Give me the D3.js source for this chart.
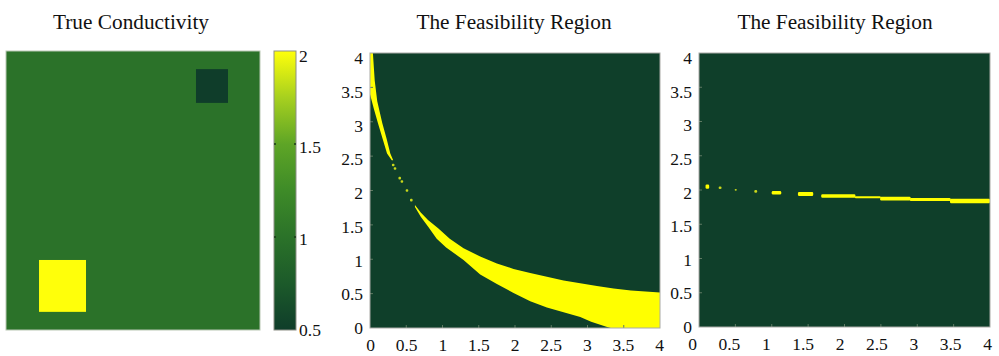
<!DOCTYPE html>
<html>
<head>
<meta charset="utf-8">
<script src="https://cdn.jsdelivr.net/npm/d3@7"></script>
<style>
  html, body { margin: 0; padding: 0; background: #fff; }
  svg { display: block; }
</style>
</head>
<body>
<svg id="chart" width="999" height="356"></svg>
<script>
// ---- Colour map for conductivity (value -> colour) ----
const cmapValues = [0.5, 0.75, 1.0, 1.25, 1.5, 1.75, 2.0];
const cmapColors = ["#0f3d2a", "#1c5a2a", "#2b7229", "#3e8b28", "#5ea526", "#a7d01f", "#ffff0a"];
const colorbarTicks = [0.5, 1, 1.5, 2];
const colorbarTickLabels = ["0.5", "1", "1.5", "2"];

// ---- True conductivity: background plus two square inclusions (unit-square coordinates) ----
const backgroundSigma = 1.0;
const inclusionSigma = [2.0, 0.5];
const inclusionX0 = [0.130, 0.748];
const inclusionX1 = [0.315, 0.874];
const inclusionY0 = [0.065, 0.814];
const inclusionY1 = [0.251, 0.935];

// ---- Feasibility axes ----
const axisTicks = [0, 0.5, 1, 1.5, 2, 2.5, 3, 3.5, 4];
const axisTickLabels = ["0", "0.5", "1", "1.5", "2", "2.5", "3", "3.5", "4"];
const titles = ["True Conductivity", "The Feasibility Region", "The Feasibility Region"];
const feasibleColor = "#ffff00";
const infeasibleColor = "#0f3f2a";

// ---- Feasibility region, first pair: thin strip near the top-left ----
const stripRightX = [0.04, 0.065, 0.10, 0.17, 0.23, 0.28, 0.32];
const stripRightY = [4.00, 3.60, 3.30, 2.98, 2.75, 2.54, 2.44];
const stripLeftX  = [0.00, 0.00, 0.05, 0.11, 0.175, 0.235, 0.30];
const stripLeftY  = [4.00, 3.40, 3.20, 2.98, 2.75, 2.54, 2.44];

// isolated feasible points along the curve
const dotX = [0.32, 0.345, 0.41, 0.44, 0.51, 0.57];
const dotY = [2.37, 2.32, 2.18, 2.13, 2.00, 1.86];

// main band: upper and lower edges
const bandUpperX = [0.62, 0.70, 0.80, 0.94, 1.10, 1.29, 1.52, 1.75, 1.98, 2.21, 2.44, 2.67, 2.90, 3.13, 3.36, 3.60, 4.00];
const bandUpperY = [1.79, 1.68, 1.57, 1.45, 1.30, 1.16, 1.04, 0.94, 0.86, 0.80, 0.745, 0.69, 0.65, 0.61, 0.575, 0.545, 0.515];
const bandLowerX = [0.62, 0.70, 0.805, 0.92, 1.05, 1.29, 1.52, 1.75, 1.98, 2.21, 2.44, 2.67, 2.90, 3.05, 3.26, 3.32, 4.00];
const bandLowerY = [1.76, 1.62, 1.47, 1.30, 1.17, 0.99, 0.78, 0.64, 0.51, 0.39, 0.30, 0.23, 0.16, 0.09, 0.02, 0.00, 0.00];

// ---- Feasibility region, second pair: short pieces near sigma2 ~ 1.9 ----
const pieceX0  = [0.09, 0.27, 0.49, 0.76, 1.00, 1.36, 1.68, 2.14, 2.49, 2.90, 3.45];
const pieceX1  = [0.14, 0.31, 0.52, 0.80, 1.13, 1.57, 2.15, 2.50, 2.91, 3.46, 4.00];
const pieceYLo = [2.02, 2.015, 1.99, 1.96, 1.935, 1.912, 1.888, 1.88, 1.848, 1.838, 1.808];
const pieceYHi = [2.08, 2.05, 2.015, 2.00, 1.985, 1.972, 1.938, 1.91, 1.90, 1.882, 1.872];

// ---------------------------------------------------------------
const serif = '"Liberation Serif"';
const svg = d3.select("#chart");
const cmap = d3.scaleLinear().domain(cmapValues).range(cmapColors).clamp(true);
const frameColor = "#a9aaa6";
const tickFont = 17.5;

// titles
const titleX = [131, 514, 835];
svg.selectAll("text.title").data(titles).join("text")
  .attr("class", "title")
  .attr("x", (d, i) => titleX[i]).attr("y", 29)
  .attr("text-anchor", "middle")
  .style("font-family", serif).style("font-size", "21.3px").style("fill", "#111")
  .text(d => d);

// ===== Panel 1: true conductivity =====
const p1 = { x: 6, y: 51, w: 254, h: 279 };
const u = d3.scaleLinear().domain([0, 1]).range([p1.x, p1.x + p1.w]);
const v = d3.scaleLinear().domain([0, 1]).range([p1.y + p1.h, p1.y]);
const g1 = svg.append("g");
g1.append("rect").attr("x", u(0)).attr("y", v(1)).attr("width", u(1) - u(0)).attr("height", v(0) - v(1))
  .attr("fill", cmap(backgroundSigma));
g1.selectAll("rect.inc").data(inclusionSigma).join("rect")
  .attr("class", "inc")
  .attr("x", (d, i) => u(inclusionX0[i]))
  .attr("y", (d, i) => v(inclusionY1[i]))
  .attr("width", (d, i) => u(inclusionX1[i]) - u(inclusionX0[i]))
  .attr("height", (d, i) => v(inclusionY0[i]) - v(inclusionY1[i]))
  .attr("fill", d => cmap(d));
g1.append("rect").attr("x", p1.x).attr("y", p1.y).attr("width", p1.w).attr("height", p1.h)
  .attr("fill", "none").attr("stroke", "#b9c7b4").attr("stroke-width", 1);

// colour bar
const cb = { x: 274, y: 51, w: 22, h: 279 };
const cbScale = d3.scaleLinear().domain([0.5, 2]).range([cb.y + cb.h, cb.y]);
const defs = svg.append("defs");
const grad = defs.append("linearGradient").attr("id", "cbgrad")
  .attr("x1", 0).attr("y1", 1).attr("x2", 0).attr("y2", 0);
grad.selectAll("stop").data(cmapValues).join("stop")
  .attr("offset", d => (d - 0.5) / 1.5)
  .attr("stop-color", (d, i) => cmapColors[i]);
svg.append("rect").attr("x", cb.x).attr("y", cb.y).attr("width", cb.w).attr("height", cb.h)
  .attr("fill", "url(#cbgrad)").attr("stroke", "#8d8f86").attr("stroke-width", 1);
const cbLabelScale = d3.scaleLinear().domain([0.5, 2]).range([cb.y + cb.h, cb.y + 5]);
svg.selectAll("line.cbtick").data(colorbarTicks.slice(1, 3)).join("line")
  .attr("class", "cbtick")
  .attr("x1", cb.x).attr("x2", cb.x + 2).attr("y1", d => cbScale(d)).attr("y2", d => cbScale(d))
  .attr("stroke", "#1a3a1a").attr("stroke-width", 1.5);
svg.selectAll("line.cbtick2").data(colorbarTicks.slice(1, 3)).join("line")
  .attr("class", "cbtick2")
  .attr("x1", cb.x + cb.w - 2).attr("x2", cb.x + cb.w).attr("y1", d => cbScale(d)).attr("y2", d => cbScale(d))
  .attr("stroke", "#1a3a1a").attr("stroke-width", 1.5);
svg.selectAll("text.cblab").data(colorbarTicks).join("text")
  .attr("class", "cblab")
  .attr("x", cb.x + cb.w + 3).attr("y", d => cbLabelScale(d)).attr("dy", "0.34em")
  .style("font-family", serif).style("font-size", tickFont + "px").style("fill", "#111")
  .text((d, i) => colorbarTickLabels[i]);

// ===== Feasibility panels =====
function feasPanel(box, id, xLabelRange) {
  const x = d3.scaleLinear().domain([0, 4]).range([box.x, box.x + box.w]);
  const y = d3.scaleLinear().domain([0, 4]).range([box.y + box.h, box.y]);
  const g = svg.append("g");
  defs.append("clipPath").attr("id", id).append("rect")
    .attr("x", box.x).attr("y", box.y).attr("width", box.w).attr("height", box.h);
  g.append("rect").attr("x", box.x).attr("y", box.y).attr("width", box.w).attr("height", box.h)
    .attr("fill", infeasibleColor);
  const plot = g.append("g").attr("clip-path", `url(#${id})`);

  // y axis labels
  const yLab = d3.scaleLinear().domain([0, 4]).range([box.y + box.h, box.y + 5]);
  const yAxis = d3.axisLeft(yLab).tickValues(axisTicks)
    .tickFormat((d, i) => axisTickLabels[i]).tickSize(0).tickPadding(7);
  const ya = svg.append("g").attr("transform", `translate(${box.x},0)`).call(yAxis);
  ya.attr("font-family", null);
  ya.select(".domain").remove();
  ya.selectAll("text").style("font-family", serif).style("font-size", tickFont + "px").style("fill", "#111");

  // x axis labels
  const xLab = d3.scaleLinear().domain([0, 4]).range(xLabelRange);
  const xAxis = d3.axisBottom(xLab).tickValues(axisTicks)
    .tickFormat((d, i) => axisTickLabels[i]).tickSize(0).tickPadding(11);
  const xa = svg.append("g").attr("transform", `translate(0,${box.y + box.h})`).call(xAxis);
  xa.attr("font-family", null);
  xa.select(".domain").remove();
  xa.selectAll("text").style("font-family", serif).style("font-size", tickFont + "px").style("fill", "#111");

  return { x, y, g, plot };
}

function innerTicksAndFrame(p, box) {
  const ticks = axisTicks.slice(1, -1);
  p.g.selectAll("line.tx").data(ticks).join("line").attr("class", "tx")
    .attr("x1", d => p.x(d)).attr("x2", d => p.x(d))
    .attr("y1", box.y + box.h).attr("y2", box.y + box.h - 3)
    .attr("stroke", "#5f7a63").attr("stroke-width", 1);
  p.g.selectAll("line.ty").data(ticks).join("line").attr("class", "ty")
    .attr("x1", box.x).attr("x2", box.x + 3)
    .attr("y1", d => p.y(d)).attr("y2", d => p.y(d))
    .attr("stroke", "#5f7a63").attr("stroke-width", 1);
  p.g.append("rect").attr("x", box.x).attr("y", box.y).attr("width", box.w).attr("height", box.h)
    .attr("fill", "none").attr("stroke", frameColor).attr("stroke-width", 1);
}

// ---- Panel 2 ----
const box2 = { x: 370, y: 53, w: 290, h: 275 };
const p2 = feasPanel(box2, "clip2", [370, 659]);
const poly = d3.line().x(d => p2.x(d[0])).y(d => p2.y(d[1])).curve(d3.curveLinearClosed);

const stripPts = stripRightX.map((d, i) => [d, stripRightY[i]])
  .concat(stripLeftX.map((d, i) => [d, stripLeftY[i]]).reverse());
p2.plot.append("path").attr("d", poly(stripPts)).attr("fill", feasibleColor);

const bandPts = bandUpperX.map((d, i) => [d, bandUpperY[i]])
  .concat([[4, 0]])
  .concat(bandLowerX.map((d, i) => [d, bandLowerY[i]]).reverse());
p2.plot.append("path").attr("d", poly(bandPts)).attr("fill", feasibleColor);

p2.plot.selectAll("rect.dot").data(dotX).join("rect").attr("class", "dot")
  .attr("x", (d, i) => p2.x(d) - 1.3).attr("y", (d, i) => p2.y(dotY[i]) - 1.3)
  .attr("width", 2.6).attr("height", 2.6).attr("rx", 1)
  .attr("fill", "#c8d81a");
innerTicksAndFrame(p2, box2);

// ---- Panel 3 ----
const box3 = { x: 699, y: 53, w: 291, h: 274 };
const p3 = feasPanel(box3, "clip3", [692, 987]);
p3.plot.selectAll("rect.piece").data(pieceX0).join("rect").attr("class", "piece")
  .attr("x", (d, i) => p3.x(d))
  .attr("y", (d, i) => p3.y(pieceYHi[i]))
  .attr("width", (d, i) => p3.x(pieceX1[i]) - p3.x(d))
  .attr("height", (d, i) => p3.y(pieceYLo[i]) - p3.y(pieceYHi[i]))
  .attr("rx", 1.2)
  .attr("fill", (d, i) => (i >= 1 && i <= 3) ? "#c9d61c" : feasibleColor);
innerTicksAndFrame(p3, box3);
</script>
</body>
</html>
